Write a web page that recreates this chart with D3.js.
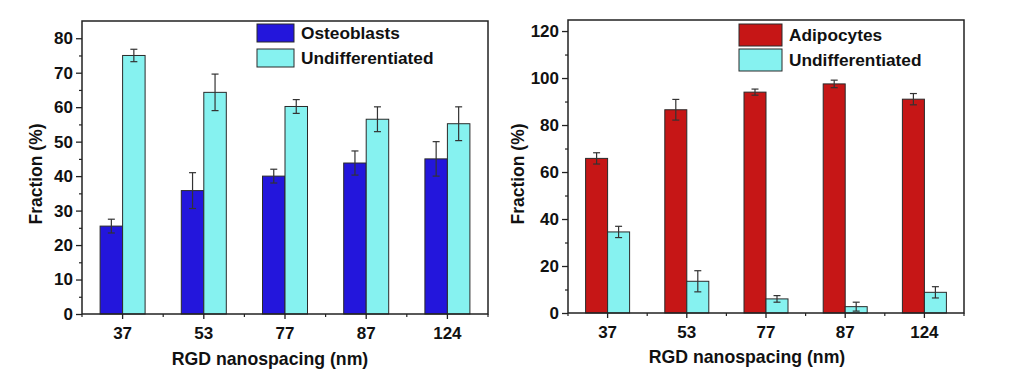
<!DOCTYPE html>
<html><head><meta charset="utf-8">
<script src="https://cdn.jsdelivr.net/npm/d3@7"></script>
<style>
body{margin:0;background:#fff;}
svg text{font-family:Arial,"Liberation Sans",sans-serif;font-weight:bold;fill:#111;}
</style></head><body>
<svg id="c" width="1024" height="379"></svg>
<script>
const categories = ["37","53","77","87","124"];
// Left panel
const osteoblasts = [25.5, 35.8, 40.0, 43.8, 45.0];
const osteoErr = [2.0, 5.2, 2.0, 3.5, 5.0];
const undiffL = [75.0, 64.3, 60.2, 56.5, 55.2];
const undiffLErr = [1.8, 5.3, 2.0, 3.6, 4.9];
const yTicksL = [0,10,20,30,40,50,60,70,80];
// Right panel
const adipocytes = [65.8, 86.5, 94.0, 97.5, 91.0];
const adipoErr = [2.4, 4.4, 1.3, 1.6, 2.4];
const undiffR = [34.5, 13.5, 6.0, 2.7, 8.8];
const undiffRErr = [2.4, 4.5, 1.4, 1.9, 2.4];
const yTicksR = [0,20,40,60,80,100,120];

const svg = d3.select("#c");

function panel(o){
  const g = svg.append("g");
  const x = d3.scaleBand().domain(categories).range([o.x0,o.x1]).padding(0);
  const y = d3.scaleLinear().domain([0,o.ymax]).range([o.yb,o.yt]);
  const bw = o.bw;
  const series = [
    {vals:o.s1, err:o.e1, color:o.c1, off:-bw},
    {vals:o.s2, err:o.e2, color:o.c2, off:0}
  ];
  series.forEach(s=>{
    g.selectAll(null).data(categories).enter().append("rect")
      .attr("x",d=>x(d)+x.bandwidth()/2+s.off)
      .attr("y",(d,i)=>y(s.vals[i]))
      .attr("width",bw)
      .attr("height",(d,i)=>y(0)-y(s.vals[i]))
      .attr("fill",s.color).attr("stroke","#2a2a2a").attr("stroke-width",1);
  });
  series.forEach(s=>{
    const eg = g.selectAll(null).data(categories).enter().append("g")
      .attr("stroke","#333").attr("stroke-width",1.2);
    const cx = d=>x(d)+x.bandwidth()/2+s.off+bw/2;
    eg.append("line").attr("x1",cx).attr("x2",cx)
      .attr("y1",(d,i)=>y(s.vals[i]+s.err[i])).attr("y2",(d,i)=>y(s.vals[i]-s.err[i]));
    eg.append("line").attr("x1",d=>cx(d)-3.5).attr("x2",d=>cx(d)+3.5)
      .attr("y1",(d,i)=>y(s.vals[i]+s.err[i])).attr("y2",(d,i)=>y(s.vals[i]+s.err[i]));
    eg.append("line").attr("x1",d=>cx(d)-3.5).attr("x2",d=>cx(d)+3.5)
      .attr("y1",(d,i)=>y(s.vals[i]-s.err[i])).attr("y2",(d,i)=>y(s.vals[i]-s.err[i]));
  });
  // frame
  g.append("rect").attr("x",o.x0).attr("y",o.yt).attr("width",o.x1-o.x0).attr("height",o.yb-o.yt)
    .attr("fill","none").attr("stroke","#222").attr("stroke-width",1.5);
  // y axis
  const ya = g.append("g").attr("transform",`translate(${o.x0},0)`)
    .call(d3.axisLeft(y).tickValues(o.yticks).tickSize(6).tickPadding(3).tickFormat(d3.format("d")));
  ya.select(".domain").remove();
  ya.selectAll(".tick line").attr("stroke","#222").attr("stroke-width",1.3);
  ya.selectAll("text").attr("font-size",17).style("font-weight","bold");
  const minor = [];
  for(let i=0;i<o.yticks.length-1;i++) minor.push((o.yticks[i]+o.yticks[i+1])/2);
  const ym = g.append("g").attr("transform",`translate(${o.x0},0)`)
    .call(d3.axisLeft(y).tickValues(minor).tickSize(3).tickFormat(""));
  ym.select(".domain").remove();
  ym.selectAll(".tick line").attr("stroke","#222").attr("stroke-width",1.2);
  // x axis
  const xa = g.append("g").attr("transform",`translate(0,${o.yb})`)
    .call(d3.axisBottom(x).tickSize(5).tickPadding(8));
  xa.select(".domain").remove();
  xa.selectAll(".tick line").attr("stroke","#222").attr("stroke-width",1.3);
  xa.selectAll("text").attr("font-size",17).style("font-weight","bold");
  const bounds = categories.map(c=>x(c)).concat([o.x1]);
  g.selectAll(null).data(bounds).enter().append("line")
    .attr("x1",d=>d).attr("x2",d=>d).attr("y1",o.yb).attr("y2",o.yb+3)
    .attr("stroke","#222").attr("stroke-width",1.2);
  // titles
  g.append("text").attr("x",o.xtx).attr("y",o.xty).attr("text-anchor","middle")
    .attr("font-size",17.7).text("RGD nanospacing (nm)");
  g.append("text").attr("transform",`translate(${o.ytx},${o.yty}) rotate(-90)`)
    .attr("text-anchor","middle").attr("font-size",17.5).text("Fraction (%)");
  // legend
  const names=[o.n1,o.n2], cols=[o.c1,o.c2];
  names.forEach((n,i)=>{
    g.append("rect").attr("x",o.lx).attr("y",o.ly+i*o.lstep).attr("width",o.lw).attr("height",o.lh)
      .attr("fill",cols[i]).attr("stroke","#2a2a2a").attr("stroke-width",1);
    g.append("text").attr("x",o.lx+o.lw+7).attr("y",o.ly+i*o.lstep+o.lh/2).attr("dy","0.36em")
      .attr("font-size",17.3).text(n);
  });
}

panel({x0:82,x1:488,yt:21,yb:314,ymax:85,bw:22.5,yticks:yTicksL,
  s1:osteoblasts,e1:osteoErr,s2:undiffL,e2:undiffLErr,c1:"#2316dc",c2:"#86f2f0",
  n1:"Osteoblasts",n2:"Undifferentiated",
  xtx:270,xty:365,ytx:42,yty:174,lx:257,ly:24,lstep:25,lw:37,lh:18});
panel({x0:568,x1:964,yt:20,yb:313,ymax:124.7,bw:22,yticks:yTicksR,
  s1:adipocytes,e1:adipoErr,s2:undiffR,e2:undiffRErr,c1:"#c61616",c2:"#86f2f0",
  n1:"Adipocytes",n2:"Undifferentiated",
  xtx:747,xty:363,ytx:524,yty:174,lx:739,ly:24,lstep:25,lw:43,lh:22});
</script></body></html>
